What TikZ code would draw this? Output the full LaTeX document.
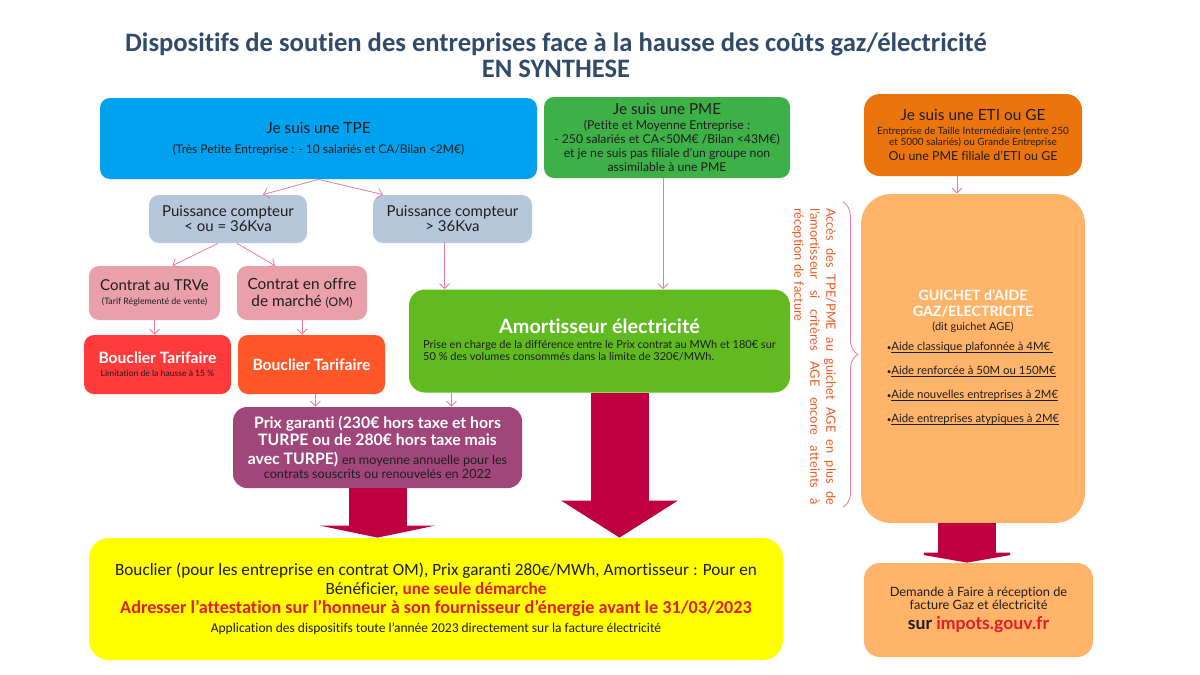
\documentclass[tikz,border=0pt]{standalone}
\usepackage{fontspec}
\setmainfont[Ligatures=NoCommon]{Lato}
\newfontfamily\calibri[Ligatures=NoCommon]{Carlito}
\usetikzlibrary{positioning,arrows.meta,decorations.pathreplacing}
\definecolor{titrebleu}{RGB}{47,75,105}
\definecolor{bleutpe}{RGB}{0,162,240}
\definecolor{vertpme}{RGB}{62,176,72}
\definecolor{orangeeti}{RGB}{236,116,12}
\definecolor{grispuiss}{RGB}{182,199,220}
\definecolor{rosecontrat}{RGB}{234,160,170}
\definecolor{rougebouclier}{RGB}{255,58,58}
\definecolor{orangebouclier}{RGB}{255,86,42}
\definecolor{vertamort}{RGB}{96,186,32}
\definecolor{violetprix}{RGB}{160,70,122}
\definecolor{cramoisi}{RGB}{190,0,64}
\definecolor{jaunefond}{RGB}{255,255,0}
\definecolor{orangeclair}{RGB}{255,180,105}
\definecolor{rosefleche}{RGB}{228,125,165}
\definecolor{orangetexte}{RGB}{236,90,36}
\definecolor{rougetexte}{RGB}{222,30,40}
\definecolor{textegris}{RGB}{30,30,30}
\newcommand{\ligneaide}[1]{{\fontsize{4}{4}\selectfont\textbullet}\setbox0\hbox{#1}\rlap{\rule[-0.9pt]{\wd0}{0.35pt}}\box0}

\begin{document}
\begin{tikzpicture}[x=0.5pt,y=-0.5pt,
	boite/.style={rounded corners=5pt,align=center,inner sep=1pt,text=textegris},
	fleche/.style={-{Straight Barb[length=2.5pt,width=5pt]},draw=rosefleche,line width=0.4pt},
	grosse/.style={draw=cramoisi,line width=29pt,-{Triangle[width=57.5pt,length=#1]}}]
	\fill[white] (0,0) rectangle (1200,675);
	\useasboundingbox (0,0) rectangle (1200,675);
	\node[align=center,text=titrebleu,font=\calibri\bfseries\fontsize{13.3}{13}\selectfont] (titre) at (556,55) {Dispositifs de soutien des entreprises face à la hausse des coûts gaz/électricité\\EN SYNTHESE};
	\node[boite,fill=bleutpe,minimum width=218.5pt,minimum height=40.5pt,font=\fontsize{6}{10}\selectfont] (tpe) at (318.5,138.5) {{\fontsize{7.7}{10}\selectfont Je suis une TPE}\\(Très Petite Entreprise : - 10 salariés et CA/Bilan <2M€)};
	\node[boite,fill=vertpme,minimum width=123pt,minimum height=40.5pt,font=\fontsize{6.1}{7}\selectfont] (pme) at (667,137.5) {{\fontsize{7.6}{7}\selectfont Je suis une PME}\\[0.5pt](Petite et Moyenne Entreprise :\\- 250 salariés et CA<50M€ /Bilan <43M€)\\et je ne suis pas filiale d’un groupe non\\assimilable à une PME};
	\node[boite,fill=orangeeti,rounded corners=8pt,minimum width=109pt,minimum height=41pt,font=\fontsize{5}{5.5}\selectfont] (eti) at (973,135) {{\fontsize{7.7}{5.5}\selectfont Je suis une ETI ou GE}\\[1.5pt]Entreprise de Taille Intermédiaire (entre 250\\et 5000 salariés) ou Grande Entreprise\\[0.5pt]{\fontsize{6.2}{5.5}\selectfont Ou  une PME filiale d’ETI ou GE}};
	\node[boite,fill=grispuiss,minimum width=79pt,minimum height=24pt,font=\fontsize{7.5}{7.5}\selectfont] (pinf) at (228,219) {Puissance compteur\\< ou = 36Kva};
	\node[boite,fill=grispuiss,minimum width=79.5pt,minimum height=24pt,font=\fontsize{7.5}{7.5}\selectfont] (psup) at (452.5,219) {Puissance compteur\\> 36Kva};
	\node[boite,fill=rosecontrat,minimum width=65.5pt,minimum height=27pt,font=\fontsize{4.4}{7}\selectfont] (trve) at (154.5,293) {{\fontsize{7.5}{7}\selectfont Contrat au TRVe}\\(Tarif Réglementé de vente)};
	\node[boite,fill=rosecontrat,minimum width=65pt,minimum height=27pt,font=\fontsize{7.7}{8.5}\selectfont] (om) at (302,293) {Contrat en offre\\de marché {\fontsize{6}{7}\selectfont(OM)}};
	\node[boite,fill=rougebouclier,minimum width=73.5pt,minimum height=29.5pt,font=\fontsize{4.3}{6.5}\selectfont] (bt1) at (157.5,364.5) {{\color{white}\bfseries\fontsize{7.8}{6.5}\selectfont Bouclier Tarifaire}\\Limitation de la hausse à 15 \%};
	\node[boite,fill=orangebouclier,text=white,minimum width=73.5pt,minimum height=29.5pt,font=\bfseries\fontsize{7.8}{9}\selectfont] (bt2) at (311.5,364.5) {Bouclier Tarifaire};
	\node[boite,fill=vertamort,rounded corners=8pt,minimum width=190.5pt,minimum height=51.5pt,font=\fontsize{5.5}{6}\selectfont] (amort) at (599.5,341) {{\color{white}\bfseries\fontsize{9.9}{6}\selectfont Amortisseur électricité}\\[1.5pt]\begin{tabular}[t]{@{}l@{}}Prise en charge de la différence entre le Prix contrat au MWh et 180€ sur\\50 \% des volumes consommés dans la limite de 320€/MWh.\end{tabular}};
	\node[boite,fill=violetprix,text=white,rounded corners=7pt,minimum width=144.5pt,minimum height=40.5pt,font=\bfseries\fontsize{7.9}{8.5}\selectfont] (prix) at (377.5,447.5) {Prix garanti (230€ hors taxe et hors\\TURPE ou de 280€ hors taxe mais\\[1pt]avec TURPE) {\mdseries\color{textegris}\fontsize{6.3}{6}\selectfont en moyenne annuelle pour les}\\[-1.8pt]{\mdseries\color{textegris}\fontsize{6.3}{6}\selectfont contrats souscrits ou renouvelés en 2022}};
	\node[boite,fill=jaunefond,rounded corners=10pt,minimum width=347pt,minimum height=61pt,font=\calibri\fontsize{8.6}{9.5}\selectfont] (benef) at (436,599) {Bouclier (pour les entreprise en contrat OM), Prix garanti 280€/MWh, Amortisseur : Pour en\\Bénéficier, {\bfseries\color{rougetexte}une seule démarche}\\{\bfseries\color{rougetexte}\fontsize{9.1}{9.5}\selectfont Adresser l’attestation sur l’honneur à son fournisseur d’énergie avant le 31/03/2023}\\{\fontsize{6.75}{9.5}\selectfont Application des dispositifs toute l’année 2023 directement sur la facture électricité}};
	\node[boite,fill=orangeclair,rounded corners=15pt,minimum width=112pt,minimum height=164.5pt,font=\fontsize{5.5}{7}\selectfont] (guichet) at (973,358.5) {{\color{white}\bfseries\fontsize{7.1}{7}\selectfont GUICHET d’AIDE}\\[1pt]{\color{white}\bfseries\fontsize{7.1}{7}\selectfont GAZ/ELECTRICITE}\\(dit guichet AGE)\\[3pt]\fontsize{5.7}{7}\selectfont\begin{tabular}[t]{@{}l@{}}\ligneaide{Aide classique plafonnée à 4M€ }\\[5pt]\ligneaide{Aide renforcée à 50M ou 150M€}\\[5pt]\ligneaide{Aide nouvelles entreprises à 2M€}\\[5pt]\ligneaide{Aide entreprises atypiques à 2M€}\end{tabular}};
	\node[boite,fill=orangeclair,rounded corners=8pt,minimum width=114.5pt,minimum height=47pt,font=\fontsize{6.4}{6.5}\selectfont] (demande) at (978.5,610) {Demande à Faire à réception de\\facture Gaz et électricité\\[2.5pt]{\bfseries\fontsize{8.8}{6.5}\selectfont sur {\color{rougetexte}impots.gouv.fr}}};
	\node[text width=148.5pt,align=justify,rotate=-90,inner sep=0pt,text=orangetexte,font=\fontsize{6.4}{8}\selectfont] (acces) at (814,356.5) {Accès des TPE/PME au guichet AGE en plus de\linebreak l’amortisseur si critères AGE encore atteints à\linebreak réception de facture};
	\draw[rosefleche,line width=0.4pt,decorate,decoration={brace,amplitude=7.5pt}] (843,202) -- (843,507);
	\draw[fleche] (tpe.south) -- ([xshift=17.5pt]pinf.north);
	\draw[fleche] (tpe.south) -- ([xshift=-34.75pt]psup.north);
	\draw[fleche] ([xshift=-5pt]pinf.south) -- ([xshift=9pt]trve.north);
	\draw[fleche] ([xshift=4.5pt]pinf.south) -- ([xshift=-13.5pt]om.north);
	\draw[fleche] ([xshift=-4pt]psup.south) -- ([xshift=-4pt]psup.south |- amort.north);
	\draw[fleche] ([xshift=-2pt]pme.south) -- ([xshift=-2pt]pme.south |- amort.north);
	\draw[fleche] (trve.south) -- (trve.south |- bt1.north);
	\draw[fleche] (om.south) -- (om.south |- bt2.north);
	\draw[fleche] ([xshift=2pt]bt2.south) -- ([xshift=2pt]bt2.south |- prix.north);
	\draw[fleche] ([xshift=-74pt]amort.south) -- ([xshift=-74pt]amort.south |- prix.north);
	\draw[fleche] ([xshift=-8pt]eti.south) -- ([xshift=-8pt]eti.south |- guichet.north);
	\draw[grosse=6pt] (prix.south) -- (prix.south |- benef.north);
	\draw[grosse=18.5pt] ([xshift=10pt]amort.south) -- ([xshift=10pt]amort.south |- benef.north);
	\draw[grosse=5pt] ([xshift=-3pt]guichet.south) -- ([xshift=-3pt]guichet.south |- demande.north);
\end{tikzpicture}
\end{document}
